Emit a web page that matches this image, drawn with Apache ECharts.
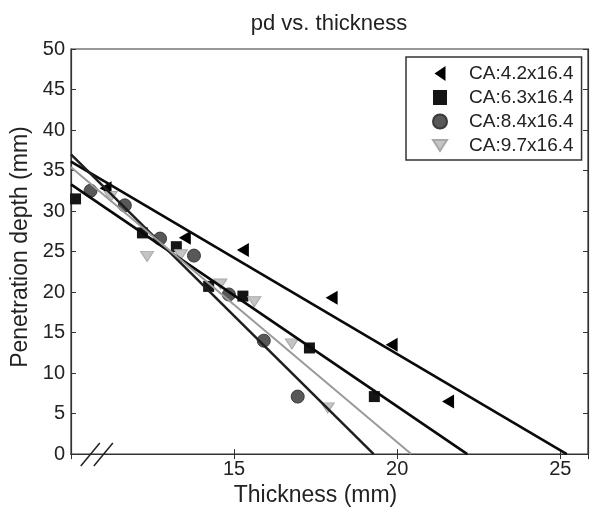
<!DOCTYPE html>
<html>
<head>
<meta charset="utf-8">
<script src="https://cdn.jsdelivr.net/npm/echarts@6/dist/echarts.min.js"></script>
<style>html,body{margin:0;padding:0;background:#fff}#c{width:591px;height:512px}</style>
</head>
<body>
<div id="c"></div>
<script>
// ---- data ----
const seriesNames = ['CA:4.2x16.4', 'CA:6.3x16.4', 'CA:8.4x16.4', 'CA:9.7x16.4'];
const ca42 = [[11.06, 32.8], [13.49, 26.7], [15.27, 25.2], [17.99, 19.3], [19.83, 13.5], [21.56, 6.5]];
const ca63 = [[10.14, 31.5], [12.19, 27.3], [13.23, 25.6], [14.22, 20.7], [15.27, 19.5], [17.31, 13.1], [19.3, 7.1]];
const ca84 = [[10.6, 32.5], [11.65, 30.7], [12.73, 26.6], [13.77, 24.5], [14.84, 19.7], [15.91, 14.0], [16.95, 7.1]];
const ca97 = [[11.22, 31.8], [12.33, 24.4], [13.37, 24.6], [14.58, 21.0], [15.62, 18.8], [16.77, 13.6], [17.87, 5.7]];
// fitted lines (end points)
const fit42 = [[10, 36.1], [25.2, 0]];
const fit63 = [[10, 33.3], [22.15, 0]];
const fit84 = [[10, 37.0], [19.28, 0]];
const fit97 = [[10, 35.4], [20.43, 0]];
const xTicks = [15, 20, 25];
const yTicks = [0, 5, 10, 15, 20, 25, 30, 35, 40, 45, 50];

const FONT = 'Liberation Sans, Arial, sans-serif';
const chart = echarts.init(document.getElementById('c'), null, {renderer: 'canvas'});

const axisLine = {show: true, lineStyle: {color: '#333', width: 1.2}};
const tick = {show: true, inside: true, length: 5, lineStyle: {color: '#333', width: 1}};
const leftTri = 'path://M11,0 L11,15 L0,7.5 Z';
const downTri = 'path://M0,0 L14,0 L7,11 Z';

const option = {
  animation: false,
  backgroundColor: '#fff',
  title: {
    text: 'pd vs. thickness', left: 324, top: 8, textAlign: 'center',
    textStyle: {fontFamily: FONT, fontSize: 22, fontWeight: 'normal', color: '#222'}
  },
  grid: {left: 71, right: 3, top: 49, bottom: 54, show: true, borderColor: '#333', borderWidth: 1.2, backgroundColor: '#fff'},
  legend: {
    data: [
      {name: seriesNames[0], icon: leftTri},
      {name: seriesNames[1], icon: 'rect'},
      {name: seriesNames[2], icon: 'circle'},
      {name: seriesNames[3], icon: downTri}
    ],
    orient: 'vertical', left: 406, top: 57,
    padding: [7, 8, 5, 26], itemGap: 5, itemWidth: 14, itemHeight: 15,
    borderColor: '#333', borderWidth: 1.5, backgroundColor: '#fff',
    textStyle: {fontFamily: FONT, fontSize: 19, color: '#222', padding: [0, 0, 0, 17]}
  },
  xAxis: [
    {type: 'value', min: 10, max: 25.85, interval: 5, position: 'bottom',
     name: 'Thickness (mm)', nameLocation: 'middle', nameGap: 29,
     nameTextStyle: {fontFamily: FONT, fontSize: 23, color: '#222', padding: [0, 28, 0, 0]},
     axisLine, axisTick: tick, splitLine: {show: false},
     axisLabel: {fontFamily: FONT, fontSize: 20, color: '#222', margin: 5,
       formatter: v => xTicks.includes(v) ? String(v) : ''}},
    {type: 'value', min: 10, max: 25.85, interval: 5, position: 'top',
     axisLine, axisTick: tick, axisLabel: {show: false}, splitLine: {show: false}}
  ],
  yAxis: [
    {type: 'value', min: 0, max: 50, interval: 5, position: 'left',
     name: 'Penetration depth (mm)', nameLocation: 'middle', nameGap: 37,
     nameTextStyle: {fontFamily: FONT, fontSize: 23, color: '#222', padding: [0, 0, 0, 9]},
     axisLine, axisTick: tick, splitLine: {show: false},
     axisLabel: {fontFamily: FONT, fontSize: 20, color: '#222', margin: 6,
       formatter: v => yTicks.includes(v) ? String(v) : ''}},
    {type: 'value', min: 0, max: 50, interval: 5, position: 'right',
     axisLine, axisTick: tick, axisLabel: {show: false}, splitLine: {show: false}}
  ],
  series: [
    {name: 'fit42', type: 'line', data: fit42, showSymbol: false, symbol: 'none', z: 3,
     lineStyle: {color: '#0a0a0a', width: 2.6}},
    {name: 'fit63', type: 'line', data: fit63, showSymbol: false, symbol: 'none', z: 3,
     lineStyle: {color: '#0a0a0a', width: 2.6}},
    {name: 'fit84', type: 'line', data: fit84, showSymbol: false, symbol: 'none', z: 3,
     lineStyle: {color: '#1e1e1e', width: 2.5}},
    {name: 'fit97', type: 'line', data: fit97, showSymbol: false, symbol: 'none', z: 3,
     lineStyle: {color: '#9a9a9a', width: 2}},
    {name: seriesNames[0], type: 'scatter', data: ca42, symbol: 'triangle', symbolRotate: 90, symbolSize: [14, 12], z: 2,
     itemStyle: {color: '#000', opacity: 1}},
    {name: seriesNames[1], type: 'scatter', data: ca63, symbol: 'rect', symbolSize: 11, z: 2,
     itemStyle: {color: '#151515', opacity: 1}},
    {name: seriesNames[2], type: 'scatter', data: ca84, symbol: 'circle', symbolSize: 13, z: 2,
     itemStyle: {color: '#585858', borderColor: '#3a3a3a', borderWidth: 1, opacity: 1}},
    {name: seriesNames[3], type: 'scatter', data: ca97, symbol: 'triangle', symbolRotate: 180, symbolSize: [13, 10], z: 2,
     itemStyle: {color: '#c4c4c4', borderColor: '#a8a8a8', borderWidth: 1, opacity: 1}}
  ]
};
chart.setOption(option);

// axis break marks "//" near the left end of the x axis
const p1 = chart.convertToPixel({xAxisIndex: 0, yAxisIndex: 0}, [10.3, 0]);
const p2 = chart.convertToPixel({xAxisIndex: 0, yAxisIndex: 0}, [10.7, 0]);
const brk = [p1, p2].map(p => ({
  type: 'line', z: 100,
  shape: {x1: p[0], y1: p[1] + 12, x2: p[0] + 19, y2: p[1] - 11},
  style: {stroke: '#222', lineWidth: 1.5}
}));
chart.setOption({graphic: brk});
</script>
</body>
</html>
